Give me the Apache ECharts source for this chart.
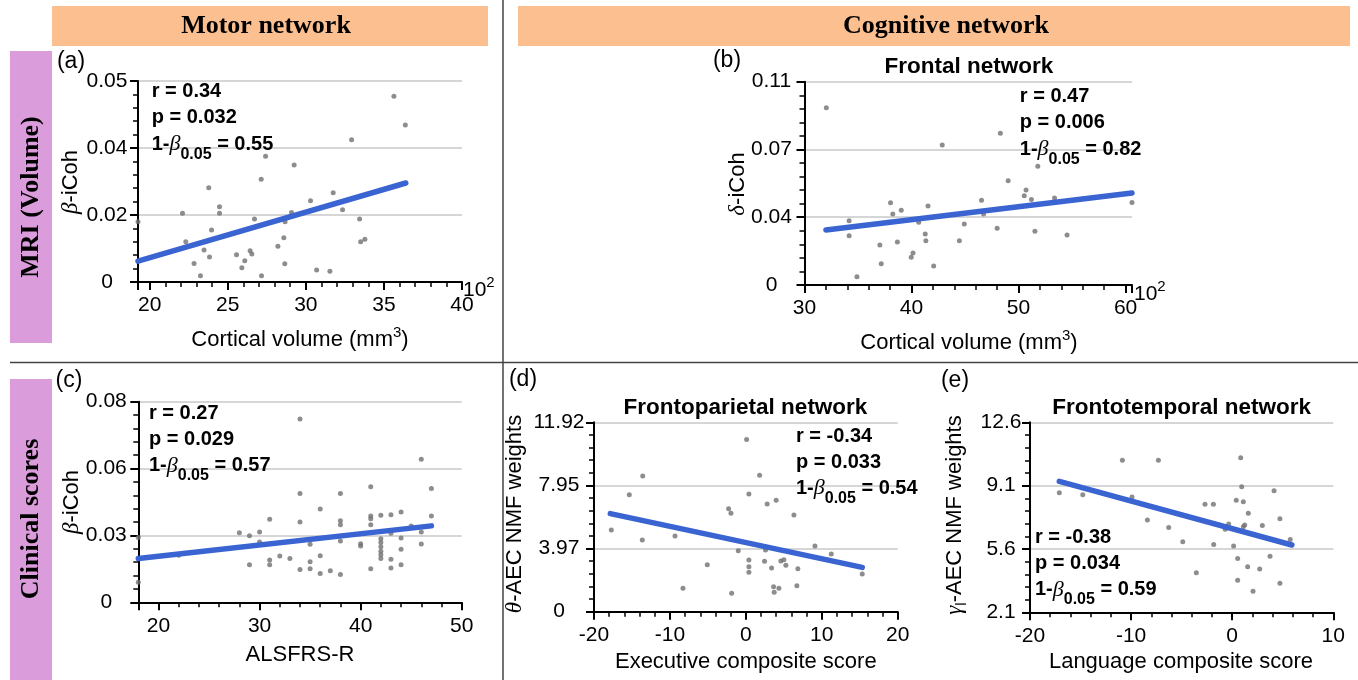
<!DOCTYPE html>
<html><head><meta charset="utf-8">
<script src="https://cdn.jsdelivr.net/npm/echarts@6/dist/echarts.min.js"></script>
<style>html,body{margin:0;padding:0;background:#fff}#c{width:1358px;height:680px}</style>
</head><body><div id="c"></div>
<script>
// ---------- DATA ----------
// (a) Motor network: cortical volume (x100 mm3) vs beta-iCoh
const aX = [19.25,22.10,22.31,22.84,23.25,23.48,23.78,23.83,23.96,24.47,24.47,25.56,25.90,26.09,26.43,26.54,26.71,27.14,27.16,27.42,28.21,28.59,28.65,28.67,29.08,29.25,30.30,30.69,31.54,31.75,32.35,32.93,33.44,33.51,33.78,35.64,36.37];
const aY = [0.0162,0.0185,0.0108,0.0050,0.0017,0.0086,0.0253,0.0067,0.0140,0.0202,0.0185,0.0073,0.0038,0.0057,0.0084,0.0075,0.0169,0.0276,0.0017,0.0338,0.0096,0.0119,0.0049,0.0162,0.0187,0.0314,0.0218,0.0032,0.0029,0.0240,0.0194,0.0382,0.0169,0.0108,0.0115,0.0499,0.0422];
const aFitX = [19.25, 36.4];
const aFitY = [0.0056, 0.0266];
// (b) Frontal network: cortical volume vs delta-iCoh
const bX = [32.04,34.17,34.17,34.90,37.04,37.17,38.04,38.25,38.68,39.04,39.97,40.14,40.67,41.28,41.34,41.54,42.07,42.87,44.47,44.93,46.54,46.73,48.00,48.30,49.03,50.53,50.70,51.20,51.53,51.80,53.36,54.53,60.6];
const bY = [0.0959,0.0348,0.0267,0.0045,0.0216,0.0115,0.0445,0.0384,0.0233,0.0404,0.0150,0.0173,0.0339,0.0276,0.0240,0.0427,0.0103,0.0757,0.0240,0.0330,0.0458,0.0384,0.0307,0.0821,0.0564,0.0483,0.0514,0.0462,0.0291,0.0642,0.0471,0.0271,0.0447];
const bFitX = [32.0, 60.6];
const bFitY = [0.0298, 0.0498];
// (c) ALSFRS-R vs beta-iCoh
const cX = [18,18,22,28,29,29,30,30,31,31,31,32,33,34,34,34,34,35,35,35,36,36,36,37,38,38,38,38,38,40,40,41,41,41,41,41,42,42,42,42,42,42,42,43,43,43,43,44,44,44,44,45,46,46,46,47,47];
const cY = [0.0271,0.0084,0.0197,0.0291,0.0279,0.0157,0.0294,0.0253,0.0348,0.0177,0.0157,0.0194,0.0183,0.0768,0.0456,0.0336,0.0137,0.0243,0.0170,0.0141,0.0391,0.0195,0.0121,0.0132,0.0456,0.0342,0.0325,0.0257,0.0116,0.0245,0.0236,0.0484,0.0361,0.0350,0.0325,0.0141,0.0364,0.0266,0.0250,0.0233,0.0214,0.0199,0.0183,0.0367,0.0289,0.0180,0.0144,0.0378,0.0269,0.0222,0.0157,0.0320,0.0599,0.0294,0.0244,0.0477,0.0361];
const cFitX = [18, 47];
const cFitY = [0.0183, 0.0320];
// (d) Frontoparietal: executive composite score vs theta-AEC NMF weights
const dX = [-17.72,-15.35,-13.58,-13.64,-9.33,-8.28,-5.08,-2.27,-1.96,-1.87,-1.0,0.1,0.4,0.4,0.4,0.4,1.81,2.46,2.59,2.81,3.39,3.65,3.73,3.99,4.35,4.61,5.01,5.27,6.33,6.72,6.85,9.10,11.25,15.33];
const dY = [5.14,7.36,8.54,4.51,4.76,1.47,2.96,6.48,6.19,1.16,3.84,10.83,7.41,3.25,2.83,2.48,8.58,3.17,3.88,6.78,2.75,1.57,1.22,7.01,1.47,3.19,3.27,2.92,6.09,1.64,2.71,4.14,3.63,2.37];
const dFitX = [-17.85, 15.33];
const dFitY = [6.17, 2.79];
// (e) Frontotemporal: language composite score vs gamma-AEC NMF weights
const eX = [-17.10,-14.78,-10.86,-9.91,-8.39,-7.30,-6.28,-4.89,-3.55,-2.69,-1.86,-1.83,-0.69,-0.35,0.14,0.40,0.54,0.54,0.84,0.94,1.10,1.10,1.24,1.53,1.59,2.06,2.72,2.98,3.74,4.14,4.72,4.72,5.74];
const eY = [8.71,8.60,10.50,8.47,7.20,10.50,6.78,6.00,4.29,8.07,8.07,5.84,6.69,6.98,5.76,8.29,5.08,3.87,10.64,9.04,8.21,6.83,6.92,4.62,7.57,3.26,4.49,6.89,5.20,8.82,7.27,3.70,6.13];
const eFitX = [-17.1, 5.9];
const eFitY = [9.34, 5.82];
// text
const stats = {
  a: ['r = 0.34', 'p = 0.032', '0.55'],
  b: ['r = 0.47', 'p = 0.006', '0.82'],
  c: ['r = 0.27', 'p = 0.029', '0.57'],
  d: ['r = -0.34', 'p = 0.033', '0.54'],
  e: ['r = -0.38', 'p = 0.034', '0.59']
};

// ---------- STYLE ----------
const SANS = 'Liberation Sans', SERIF = 'Liberation Serif';
const DOT = '#707070', FIT = '#3A64D2', GRIDC = '#d6d6d6';
const TICKFS = 21;

function xAxisCfg(gi, o) {
  return Object.assign({
    type: 'value', gridIndex: gi,
    axisLine: {show: true, onZero: false, lineStyle: {color: '#000', width: 2}},
    axisTick: {show: true, length: 8, lineStyle: {color: '#000', width: 2}},
    minorTick: {show: true, splitNumber: 5, length: 5, lineStyle: {color: '#000', width: 1.5}},
    splitLine: {show: false},
    axisLabel: {fontFamily: SANS, fontSize: TICKFS, color: '#000', margin: 13,
      showMinLabel: o.showMin !== false, showMaxLabel: o.showMax !== false}
  }, o.ax);
}
function yAxisCfg(gi, min, max, interval, margin, dec) {
  return {
    type: 'value', gridIndex: gi, min: min, max: max, interval: interval,
    axisLine: {show: true, onZero: false, lineStyle: {color: '#000', width: 2}},
    axisTick: {show: true, length: 8, lineStyle: {color: '#000', width: 2}},
    minorTick: {show: true, splitNumber: 5, length: 5, lineStyle: {color: '#000', width: 1.5}},
    splitLine: {show: true, lineStyle: {color: GRIDC, width: 2}},
    axisLabel: {fontFamily: SANS, fontSize: TICKFS, color: '#000', margin: margin, align: 'center',
      formatter: function (v) { return Math.abs(v) < 1e-9 ? '0' : v.toFixed(dec); }}
  };
}
function pairs(xs, ys) { return xs.map(function (x, i) { return [x, ys[i]]; }); }
function scatter(gi, xs, ys) {
  return {type: 'scatter', xAxisIndex: gi, yAxisIndex: gi, data: pairs(xs, ys),
    symbol: 'circle', symbolSize: 5, itemStyle: {color: DOT}, z: 2, clip: false};
}
function fit(gi, xs, ys) {
  return {type: 'line', xAxisIndex: gi, yAxisIndex: gi, data: pairs(xs, ys),
    symbol: 'none', lineStyle: {color: FIT, width: 5.5, cap: 'round'}, z: 3};
}

const grids = [
  {left: 138, top: 81, width: 324, height: 201},
  {left: 804.5, top: 81.7, width: 327.5, height: 203.3},
  {left: 138.3, top: 401.7, width: 323.4, height: 200.6},
  {left: 594, top: 422.3, width: 303.7, height: 189.4},
  {left: 1030, top: 422.3, width: 303.3, height: 190}
];

const xAxes = [
  xAxisCfg(0, {ax: {min: 19.25, max: 40, splitNumber: 4}, showMin: false}),
  xAxisCfg(1, {ax: {min: 30, max: 60.6, interval: 10}, showMax: false}),
  xAxisCfg(2, {ax: {min: 18, max: 50, splitNumber: 3}, showMin: false}),
  xAxisCfg(3, {ax: {min: -20, max: 20, interval: 10}}),
  xAxisCfg(4, {ax: {min: -20, max: 10, interval: 10}})
];
const yAxes = [
  yAxisCfg(0, 0, 0.054, 0.018, 31, 2),
  yAxisCfg(1, 0, 0.11, 0.11 / 3, 33, 2),
  yAxisCfg(2, 0, 0.084, 0.028, 32, 2),
  yAxisCfg(3, 0, 11.92, 11.92 / 3, 35, 2),
  yAxisCfg(4, 2.1, 12.6, 3.5, 29, 1)
];

const series = [
  scatter(0, aX, aY), fit(0, aFitX, aFitY),
  scatter(1, bX, bY), fit(1, bFitX, bFitY),
  scatter(2, cX, cY), fit(2, cFitX, cFitY),
  scatter(3, dX, dY), fit(3, dFitX, dFitY),
  scatter(4, eX, eY), fit(4, eFitX, eFitY)
];

// ---------- GRAPHICS (layout) ----------
const richBase = {
  n: {fontFamily: SANS, fontSize: 22, fill: '#000'},
  nb: {fontFamily: SANS, fontSize: 20, fontWeight: 'bold', fill: '#000'},
  g: {fontFamily: SERIF, fontSize: 23, fontStyle: 'italic', fill: '#000'},
  gb: {fontFamily: SERIF, fontSize: 22, fontStyle: 'italic', fill: '#000'},
  sb: {fontFamily: SANS, fontSize: 16, fontWeight: 'bold', fill: '#000', padding: [20, 0, 0, 0]},
  sub: {fontFamily: SANS, fontSize: 15, fill: '#000', padding: [14, 0, 0, 0]},
  sup: {fontFamily: SANS, fontSize: 15, fill: '#000', padding: [0, 0, 14, 0]},
  t: {fontFamily: SANS, fontSize: 21, fill: '#000'},
  tsup: {fontFamily: SANS, fontSize: 15, fill: '#000', padding: [0, 0, 14, 0]}
};
function txt(x, y, text, opt) {
  opt = opt || {};
  return {type: 'text', x: x, y: y, rotation: opt.rot || 0, z: 10,
    style: {text: text, fill: '#000', fontFamily: opt.family || SANS, fontSize: opt.size || 22,
      fontWeight: opt.weight || 'normal', align: opt.align || 'center', verticalAlign: 'middle',
      rich: richBase}};
}
function statBlock(x, y, s) {
  return [
    txt(x, y, s[0], {weight: 'bold', align: 'left', size: 20}),
    txt(x, y + 26, s[1], {weight: 'bold', align: 'left', size: 20}),
    txt(x, y + 52.5, '{nb|1-}{gb|β}{sb|0.05}{nb| = ' + s[2] + '}', {weight: 'bold', align: 'left', size: 20})
  ];
}
const ROT = Math.PI / 2;
const graphics = [
  {type: 'rect', shape: {x: 52, y: 6, width: 436, height: 40}, style: {fill: '#FCBF90'}, z: 1},
  {type: 'rect', shape: {x: 518, y: 6, width: 832, height: 40}, style: {fill: '#FCBF90'}, z: 1},
  {type: 'rect', shape: {x: 10, y: 51, width: 42, height: 292}, style: {fill: '#DA9CDA'}, z: 1},
  {type: 'rect', shape: {x: 10, y: 379, width: 42, height: 301}, style: {fill: '#DA9CDA'}, z: 1},
  {type: 'line', shape: {x1: 503, y1: 0, x2: 503, y2: 680}, style: {stroke: '#444', lineWidth: 1.5}, z: 1},
  {type: 'line', shape: {x1: 10, y1: 362.5, x2: 1358, y2: 362.5}, style: {stroke: '#444', lineWidth: 1.5}, z: 1},
  txt(266, 26, 'Motor network', {family: SERIF, weight: 'bold', size: 26}),
  txt(946, 26, 'Cognitive network', {family: SERIF, weight: 'bold', size: 26}),
  txt(31, 197, 'MRI (Volume)', {family: SERIF, weight: 'bold', size: 26, rot: ROT}),
  txt(31, 519, 'Clinical scores', {family: SERIF, weight: 'bold', size: 26, rot: ROT}),
  txt(71, 62, '(a)', {size: 23}),
  txt(727, 61, '(b)', {size: 23}),
  txt(69, 381, '(c)', {size: 23}),
  txt(523, 380, '(d)', {size: 23}),
  txt(955, 381, '(e)', {size: 23}),
  txt(969, 67, 'Frontal network', {weight: 'bold', size: 22.5}),
  txt(745.5, 408, 'Frontoparietal network', {weight: 'bold', size: 22.5}),
  txt(1181.7, 408, 'Frontotemporal network', {weight: 'bold', size: 22.5}),
  txt(71, 182, '{g|β}{n|-iCoh}', {rot: ROT}),
  txt(300, 340, '{n|Cortical volume (mm}{sup|3}{n|)}'),
  txt(738, 184, '{g|δ}{n|-iCoh}', {rot: ROT}),
  txt(969, 343, '{n|Cortical volume (mm}{sup|3}{n|)}'),
  txt(71.7, 502, '{g|β}{n|-iCoh}', {rot: ROT}),
  txt(300, 655, 'ALSFRS-R'),
  txt(515, 514, '{g|θ}{n|-AEC NMF weights}', {rot: ROT}),
  txt(745.8, 661.7, 'Executive composite score'),
  txt(955, 515, '{g|γ}{sub|l}{n|-AEC NMF weights}', {rot: ROT}),
  txt(1181, 661.7, 'Language composite score'),
  txt(463, 290, '{t|10}{tsup|2}', {align: 'left'}),
  txt(1134, 294, '{t|10}{tsup|2}', {align: 'left'})
].concat(statBlock(151.7, 91.7, stats.a), statBlock(1019.8, 96.7, stats.b),
  statBlock(149, 413.3, stats.c), statBlock(796, 436, stats.d), statBlock(1035, 537.3, stats.e));

const chart = echarts.init(document.getElementById('c'), null, {renderer: 'canvas'});
chart.setOption({
  animation: false,
  backgroundColor: '#fff',
  grid: grids,
  xAxis: xAxes,
  yAxis: yAxes,
  series: series,
  graphic: {elements: graphics}
});
</script></body></html>
